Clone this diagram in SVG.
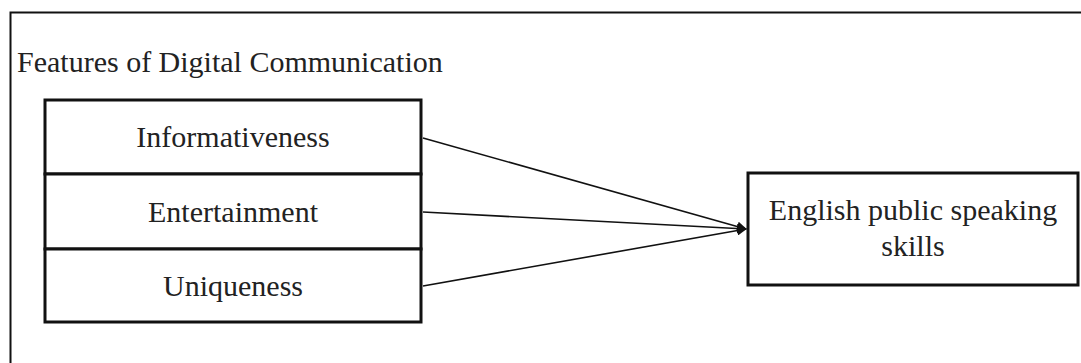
<svg xmlns="http://www.w3.org/2000/svg" width="1081" height="363" viewBox="0 0 1081 363">
<style>
text{font-family:"Liberation Serif","Times New Roman",serif;fill:#222;}
.lbl{font-size:30px;text-anchor:middle;}
.box{fill:#fff;stroke:#111;stroke-width:3;}
.conn{stroke:#111;stroke-width:1.6;fill:none;}
</style>
<defs>
<marker id="arr" markerWidth="10" markerHeight="10" refX="9" refY="5" orient="auto" markerUnits="userSpaceOnUse">
<path d="M0,0 L10,5 L0,10 Z" fill="#111"/>
</marker>
</defs>
<rect width="1081" height="363" fill="#fff"/>
<g id="frame">
<path d="M10.5,363 V12.5 H1081" fill="none" stroke="#111" stroke-width="2"/>
<text x="17" y="72" font-size="30">Features of Digital Communication</text>
</g>
<g id="informativeness">
<rect class="box" x="45" y="100" width="376" height="74"/>
<text class="lbl" x="233" y="147">Informativeness</text>
</g>
<g id="entertainment">
<rect class="box" x="45" y="174" width="376" height="75"/>
<text class="lbl" x="233" y="222">Entertainment</text>
</g>
<g id="uniqueness">
<rect class="box" x="45" y="249" width="376" height="73"/>
<text class="lbl" x="233" y="296">Uniqueness</text>
</g>
<g id="skills">
<rect class="box" x="748" y="173" width="330" height="112"/>
<text class="lbl" x="913" y="220">English public speaking</text>
<text class="lbl" x="913" y="256">skills</text>
</g>
<g id="connectors">
<line class="conn" x1="423" y1="138" x2="746" y2="229" marker-end="url(#arr)"/>
<line class="conn" x1="423" y1="212" x2="746" y2="229" marker-end="url(#arr)"/>
<line class="conn" x1="423" y1="286" x2="746" y2="229" marker-end="url(#arr)"/>
</g>
</svg>
